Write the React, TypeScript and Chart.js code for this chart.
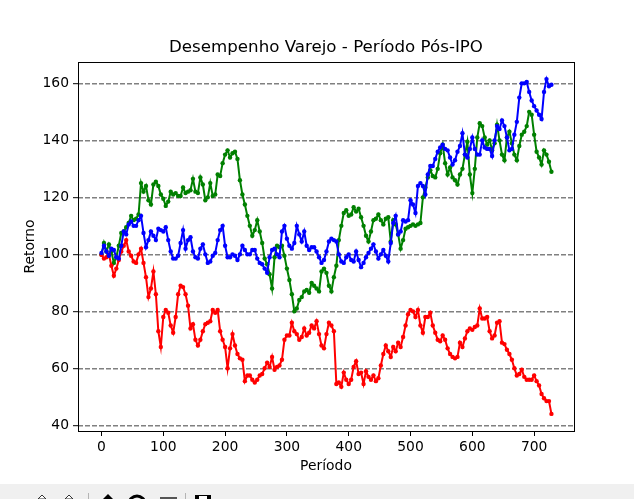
import React, { useEffect, useRef } from "react";
import { Chart, registerables } from "chart.js";

Chart.register(...registerables);

const CHART_TITLE = "Desempenho Varejo - Período Pós-IPO";
const X_TITLE = "Período";
const Y_TITLE = "Retorno";
const X_TICKS = [0, 100, 200, 300, 400, 500, 600, 700];
const Y_TICKS = [40, 60, 80, 100, 120, 140, 160];

const periods = [0,4,8,12,16,20,24,28,32,36,40,44,48,52,56,60,64,68,72,76,80,84,88,92,96,100,104,108,112,116,120,124,128,132,136,140,144,148,152,156,160,164,168,172,176,180,184,188,192,196,200,204,208,212,216,220,224,228,232,236,240,244,248,252,256,260,264,268,272,276,280,284,288,292,296,300,304,308,312,316,320,324,328,332,336,340,344,348,352,356,360,364,368,372,376,380,384,388,392,396,400,404,408,412,416,420,424,428,432,436,440,444,448,452,456,460,464,468,472,476,480,484,488,492,496,500,504,508,512,516,520,524,528,532,536,540,544,548,552,556,560,564,568,572,576,580,584,588,592,596,600,604,608,612,616,620,624,628,632,636,640,644,648,652,656,660,664,668,672,676,680,684,688,692,696,700,704,708,712,716,720,724,728];

const greenValues = [100,104,101,103.5,101,97,99,103,107.5,108,109.5,111,113.5,112,112.5,114,125,122,124,119,117.5,124.5,125.5,124,121,119.5,117,118.5,122,121,121.5,120.5,120.5,123.5,121.5,122,122.5,126.5,122,121.5,127,124.5,119,120,125,120.5,121,128,127.5,132,135,136.5,134,135.5,136,133.5,126,121,117.5,113.5,110,106.5,108.5,112,108,104,98.5,96.5,93,88,99,103,102.5,103,99.5,95,91,86,80,81,84,85,87,87.5,86.5,90,89,88,87,94,95,93.5,89,87,92,96,105,110,114.5,115.5,113.5,114,116.5,115,116,113,110,106.5,104.5,108,112,112.5,114,112,110.5,112.5,113,104.5,112,110.5,107,102,105,109,109.5,110,110.5,110,110.5,111,120,123.5,127,129.5,127.5,127,130,135.5,138.5,132,128,130.5,127,126,124.5,128,130,135,139.5,128,121.5,130,141,146,145,141,138.5,140,136.5,139,145.5,140,135,133,141,143,139,135,133,138,142,143,145,150,149,142,136,134,131.5,136.5,135,132.5,129];

const blueValues = [100.5,103,101,99.5,102,101.5,99,98.5,103,108,107,110.5,111.5,110,110,112,113.5,107.5,102.5,105,108,106.5,105,109,108.5,108,109.5,105,101,98.5,98.5,99.5,104,108.5,102,105,106,101,99,98.5,102,103.5,100,97,97.5,99.5,100.5,105,108.5,110,103,99,99,100,99.5,98,100,103,101.5,100,100,101.5,101.5,98.5,97,96.5,95,93.5,99,101.5,102,100,99,108,110,105.5,103,102,104,110,107,104.5,108,103,101.5,102.5,102.5,101,99,97,98,101,104.5,105.5,105,104.5,100,97.5,97,99,100,98,97.5,101,98,95.5,97,99,100.5,102,103.5,101,98.5,100,101.5,99.5,97.5,104,111,113.5,107,108,112,111.5,112,119,117.5,114.5,124,125,124,121,128,131,131,133.5,136,137.5,138.5,137,136.5,134,131.5,133,136,138,142.5,135,134,137,141,137,135,135,140,137.5,137,137,134.5,140,145,144,147,145,141,136.5,137,142,146.5,155,160,160,160.5,157,154,152,150.5,149,147.5,157,161.5,159,159.5];

const redValues = [99.8,98.5,99,100,96,92.5,95,98,101,103,105,101,99.5,97.5,97,100,102,97,92,85,88,94,86,73,67.5,78,80.5,79.5,75,72.5,78,86,89,88.5,86,82,74,75.5,70,68,70,73,75.5,76,76.5,80.5,79.5,80.5,73,70,67.5,60,67,72,68,65,63.5,63,55.5,57.5,57.5,56,55,56,57.5,58,60,62,60.5,64,59.5,60.5,61,63,70,71.5,71.5,76,73,72,70,71,74,71.5,72.5,75,74,76.5,72,68,67,72,76,75,73,54.5,55,53.5,58.5,56,54.5,56,60.5,62.5,58,58.5,54.5,59,57,56,57.5,55.5,56.5,61,65,68,66,64,67.5,66,69,67.5,71,75,79,80.5,80,78,80.5,75,72.5,78,78,79.5,75,72.5,70,69.5,71.5,70,67,65,64,63.5,64,69,67.5,70.5,73,74,73.5,74.5,75,81,77.5,77.5,78,73,70.5,71.5,76,76.5,69,68.5,66.5,65,63,60,57.5,58,59.5,57,56,56,56,57.5,55.5,54,51,49.5,48.5,48.5,44];

const toPoints = (xs: number[], ys: number[]) => xs.map((x, i) => ({ x, y: ys[i] }));

const FONT = "'DejaVu Sans'";

export default function App() {
  const ref = useRef<HTMLCanvasElement>(null);
  useEffect(() => {
    const series = [
      { label: "Varejo A", ys: blueValues, color: "#0000ff" },
      { label: "Varejo B", ys: redValues, color: "#ff0000" },
      { label: "Varejo C", ys: greenValues, color: "#008000" },
    ];
    const frame = {
      id: "frame",
      afterDatasetsDraw(c: any) {
        const { left, top, right, bottom } = c.chartArea;
        const g = c.ctx;
        g.save();
        g.strokeStyle = "#000";
        g.lineWidth = 1;
        g.strokeRect(left + 0.5, top + 0.5, right - left, bottom - top);
        g.restore();
      },
    };
    const chart = new Chart(ref.current!, {
      type: "line",
      data: {
        datasets: series.map((s) => ({
          label: s.label,
          data: toPoints(periods, s.ys),
          borderColor: s.color,
          backgroundColor: s.color,
          borderWidth: 2,
          pointRadius: 2.2,
          pointBorderWidth: 0,
          tension: 0,
          clip: false,
        })),
      },
      plugins: [frame],
      options: {
        animation: false,
        responsive: false,
        layout: { padding: { left: 0, right: 60, top: 0, bottom: 0 } },
        plugins: {
          legend: { display: false },
          tooltip: { enabled: false },
          title: {
            display: true,
            text: CHART_TITLE,
            color: "#000",
            fullSize: false,
            font: { family: FONT, size: 16.67, weight: "normal" },
            padding: { top: 38, bottom: 4 },
          },
        },
        scales: {
          x: {
            type: "linear",
            min: -38,
            max: 764.5,
            afterFit: (s: any) => { s.height = 53; },
            afterBuildTicks: (s: any) => { s.ticks = X_TICKS.map((value) => ({ value })); },
            grid: { drawOnChartArea: false, drawTicks: true, tickLength: 5, tickColor: "#000", tickWidth: 1 },
            border: { display: false },
            ticks: { color: "#000", font: { family: FONT, size: 13.89 }, padding: 3, maxRotation: 0, autoSkip: false },
            title: { display: true, text: X_TITLE, color: "#000", font: { family: FONT, size: 13.89 }, padding: { top: 2, bottom: 9 } },
          },
          y: {
            type: "linear",
            min: 38,
            max: 167.5,
            afterFit: (s: any) => { s.width = 78; },
            afterBuildTicks: (s: any) => { s.ticks = Y_TICKS.map((value) => ({ value })); },
            grid: { color: "#808080", lineWidth: 1.4, tickLength: 5, tickColor: "#000", tickWidth: 1, tickBorderDash: [], drawTicks: true },
            border: { display: false, dash: [5, 2] },
            ticks: { color: "#000", font: { family: FONT, size: 13.89 }, padding: 4, autoSkip: false },
            title: { display: true, text: Y_TITLE, color: "#000", font: { family: FONT, size: 13.89 }, padding: { top: 22, bottom: 4 } },
          },
        },
      },
    } as any);
    return () => chart.destroy();
  }, []);

  return (
    <div style={{ position: "fixed", left: 0, top: 0, width: 634, height: 499, background: "#fff", overflow: "hidden" }}>
      <canvas ref={ref} width={634} height={484} style={{ display: "block", width: 634, height: 484 }} />
      <svg width={634} height={15} style={{ position: "absolute", left: 0, top: 484, display: "block" }}>
        <rect width={634} height={15} fill="#f0f0f0" />
        <path d="M42 11 l-4 4 h8 z M69 11 l-4 4 h8 z" fill="#fff" stroke="#333" strokeWidth={1} />
        <rect x={88} y={9} width={1} height={6} fill="#b4b4b4" />
        <path d="M108 10 l-5 5 h10 z" fill="#000" />
        <circle cx={137} cy={20} r={8} fill="none" stroke="#000" strokeWidth={3} />
        <rect x={160} y={13} width={17} height={2} fill="#555" />
        <rect x={185} y={9} width={1} height={6} fill="#b4b4b4" />
        <rect x={195} y={11} width={16} height={4} fill="#000" />
        <rect x={199} y={12} width={8} height={3} fill="#fff" />
      </svg>
    </div>
  );
}
